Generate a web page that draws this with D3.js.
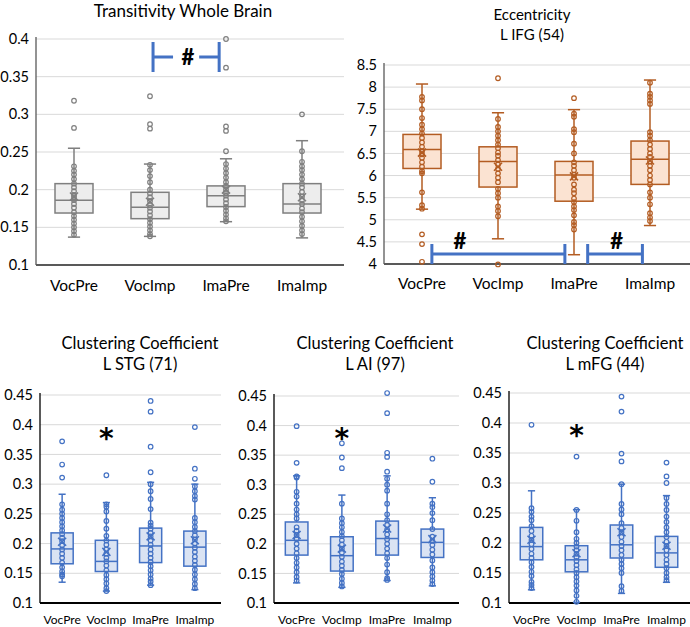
<!DOCTYPE html>
<meta charset="utf-8">
<title>box plots</title>
<head>
<style>
body { margin: 0; background: #fff; }
svg text { font-family: Lato, "Open Sans", sans-serif; }
</style>
</head>
<body>
<div id="chart"></div>
<script src="https://cdn.jsdelivr.net/npm/d3@7"></script>
<script>
var categories = ["VocPre", "VocImp", "ImaPre", "ImaImp"];

// stats per group: [whisker low, q1, median, q3, whisker high, mean]
var transStats = [
  [0.137, 0.169, 0.186, 0.208, 0.255, 0.191],
  [0.138, 0.1615, 0.1765, 0.1965, 0.234, 0.184],
  [0.1575, 0.1775, 0.192, 0.205, 0.241, 0.200],
  [0.136, 0.169, 0.181, 0.208, 0.265, 0.190]
];
var transPoints = [
  [0.318, 0.282, 0.231, 0.225, 0.220, 0.214, 0.208, 0.203, 0.198, 0.193, 0.190, 0.186, 0.181, 0.176, 0.170, 0.165, 0.160, 0.155, 0.150, 0.145, 0.140],
  [0.324, 0.287, 0.281, 0.233, 0.226, 0.218, 0.210, 0.200, 0.195, 0.190, 0.185, 0.180, 0.176, 0.171, 0.166, 0.161, 0.156, 0.151, 0.146, 0.141, 0.138],
  [0.400, 0.362, 0.284, 0.278, 0.251, 0.234, 0.228, 0.222, 0.216, 0.210, 0.205, 0.200, 0.196, 0.192, 0.187, 0.182, 0.177, 0.172, 0.167, 0.162, 0.158],
  [0.300, 0.251, 0.237, 0.231, 0.226, 0.220, 0.214, 0.208, 0.203, 0.197, 0.191, 0.186, 0.181, 0.175, 0.170, 0.164, 0.158, 0.152, 0.146, 0.141]
];

var eccStats = [
  [5.24, 6.16, 6.59, 6.93, 8.07, 6.52],
  [4.57, 5.74, 6.32, 6.65, 7.42, 6.20],
  [4.21, 5.42, 6.01, 6.32, 7.49, 5.98],
  [4.87, 5.80, 6.37, 6.78, 8.16, 6.34]
];
var eccPoints = [
  [7.78, 7.70, 7.50, 7.30, 7.15, 7.05, 6.95, 6.85, 6.75, 6.65, 6.55, 6.48, 6.40, 6.30, 6.20, 6.10, 6.05, 5.62, 5.33, 5.25, 4.67, 4.45, 4.05],
  [8.20, 7.28, 7.10, 7.00, 6.90, 6.80, 6.70, 6.62, 6.52, 6.45, 6.35, 6.25, 6.15, 6.05, 5.95, 5.85, 5.70, 5.60, 5.50, 5.30, 5.20, 5.08, 3.99],
  [7.75, 7.40, 7.33, 7.05, 6.98, 6.72, 6.50, 6.30, 6.22, 6.12, 6.02, 5.95, 5.80, 5.68, 5.60, 5.48, 5.40, 5.30, 5.22, 5.10, 4.95, 4.88, 4.78],
  [8.10, 7.85, 7.78, 7.70, 7.62, 6.98, 6.90, 6.80, 6.70, 6.60, 6.50, 6.42, 6.32, 6.22, 6.12, 6.00, 5.90, 5.80, 5.62, 5.50, 5.35, 5.15, 5.05, 4.97]
];

var stgStats = [
  [0.135, 0.166, 0.191, 0.218, 0.283, 0.203],
  [0.120, 0.153, 0.170, 0.2055, 0.269, 0.186],
  [0.130, 0.168, 0.196, 0.226, 0.303, 0.212],
  [0.1225, 0.162, 0.194, 0.221, 0.300, 0.2055]
];
var stgPoints = [
  [0.372, 0.333, 0.311, 0.266, 0.257, 0.250, 0.243, 0.236, 0.229, 0.222, 0.216, 0.210, 0.204, 0.197, 0.190, 0.183, 0.176, 0.168, 0.160, 0.153, 0.148, 0.145],
  [0.315, 0.266, 0.262, 0.254, 0.238, 0.225, 0.213, 0.205, 0.198, 0.190, 0.183, 0.176, 0.170, 0.163, 0.155, 0.147, 0.140, 0.133, 0.125, 0.120],
  [0.440, 0.422, 0.363, 0.320, 0.300, 0.288, 0.275, 0.258, 0.235, 0.230, 0.225, 0.218, 0.212, 0.205, 0.198, 0.190, 0.183, 0.176, 0.169, 0.162, 0.155, 0.148, 0.141, 0.136, 0.130],
  [0.396, 0.326, 0.309, 0.296, 0.288, 0.280, 0.274, 0.243, 0.236, 0.228, 0.221, 0.214, 0.207, 0.200, 0.193, 0.186, 0.178, 0.171, 0.164, 0.156, 0.148, 0.140, 0.132, 0.125]
];

var aiStats = [
  [0.134, 0.181, 0.206, 0.237, 0.315, 0.215],
  [0.1265, 0.154, 0.180, 0.212, 0.2825, 0.192],
  [0.138, 0.181, 0.209, 0.2385, 0.315, 0.226],
  [0.129, 0.177, 0.2025, 0.225, 0.278, 0.208]
];
var aiPoints = [
  [0.399, 0.337, 0.314, 0.312, 0.288, 0.280, 0.268, 0.258, 0.250, 0.243, 0.228, 0.222, 0.215, 0.208, 0.200, 0.192, 0.184, 0.176, 0.168, 0.160, 0.152, 0.144, 0.138],
  [0.370, 0.346, 0.328, 0.268, 0.243, 0.235, 0.228, 0.220, 0.213, 0.206, 0.199, 0.192, 0.185, 0.178, 0.170, 0.163, 0.156, 0.149, 0.141, 0.134, 0.128],
  [0.455, 0.421, 0.354, 0.347, 0.322, 0.310, 0.300, 0.290, 0.268, 0.250, 0.240, 0.232, 0.224, 0.216, 0.208, 0.200, 0.192, 0.184, 0.176, 0.165, 0.152, 0.142, 0.139],
  [0.344, 0.305, 0.268, 0.262, 0.252, 0.240, 0.225, 0.212, 0.205, 0.198, 0.190, 0.182, 0.172, 0.160, 0.152, 0.145, 0.138, 0.132]
];

var mfgStats = [
  [0.122, 0.172, 0.194, 0.226, 0.287, 0.2055],
  [0.101, 0.152, 0.172, 0.1955, 0.2555, 0.183],
  [0.116, 0.175, 0.197, 0.230, 0.298, 0.218],
  [0.1345, 0.1595, 0.1835, 0.211, 0.279, 0.1955]
];
var mfgPoints = [
  [0.397, 0.258, 0.252, 0.244, 0.238, 0.228, 0.220, 0.212, 0.205, 0.198, 0.190, 0.182, 0.175, 0.168, 0.160, 0.152, 0.145, 0.135, 0.130, 0.125],
  [0.344, 0.255, 0.237, 0.218, 0.207, 0.200, 0.194, 0.188, 0.182, 0.176, 0.170, 0.163, 0.156, 0.150, 0.143, 0.136, 0.129, 0.121, 0.112, 0.102],
  [0.444, 0.419, 0.349, 0.336, 0.298, 0.265, 0.256, 0.248, 0.233, 0.225, 0.218, 0.210, 0.202, 0.195, 0.188, 0.180, 0.172, 0.165, 0.158, 0.150, 0.128, 0.120],
  [0.334, 0.311, 0.300, 0.275, 0.265, 0.255, 0.244, 0.235, 0.226, 0.218, 0.210, 0.202, 0.195, 0.188, 0.180, 0.172, 0.165, 0.158, 0.150, 0.143, 0.138]
];

var ccTicks = [0.1, 0.15, 0.2, 0.25, 0.3, 0.35, 0.4, 0.45];
var transTicks = [0.1, 0.15, 0.2, 0.25, 0.3, 0.35, 0.4];
var eccTicks = [4, 4.5, 5, 5.5, 6, 6.5, 7, 7.5, 8, 8.5];

var svg = d3.select("#chart").append("svg")
    .attr("width", 690)
    .attr("height", 627);

var gray = {stroke: "#7f7f7f", fill: "#ededed", axis: "#595959"};
var orange = {stroke: "#b35c22", fill: "#fbe3d2", axis: "#595959"};
var blue = {stroke: "#4472c4", fill: "#dae3f3", axis: "#000"};

function panel(o) {
  var g = svg.append("g");
  var x = d3.scaleBand().domain(categories).range([o.left, o.right]);
  var y = d3.scaleLinear().domain([o.ticks[0], o.ticks[o.ticks.length - 1]]).range([o.bottom, o.top]);
  var bw = x.bandwidth() * 0.5;

  g.selectAll(".grid").data(o.ticks.slice(1)).enter().append("line")
      .attr("x1", o.left).attr("x2", o.right + 4)
      .attr("y1", function(d) { return y(d); }).attr("y2", function(d) { return y(d); })
      .style("stroke", "#d9d9d9").style("stroke-width", 1);

  var ax = g.append("g")
      .attr("transform", "translate(" + (o.left - 4) + ",0)")
      .call(d3.axisLeft(y).tickValues(o.ticks).tickSize(0).tickPadding(3)
        .tickFormat(function(d) { return String(+d.toFixed(2)); }));
  ax.select(".domain").remove();
  ax.selectAll("text").style("font-family", "Lato").style("font-size", o.tickSize + "px").style("fill", "#000");

  g.append("line").attr("x1", o.left).attr("x2", o.left).attr("y1", o.top - 2).attr("y2", o.bottom)
      .style("stroke", o.col.axis).style("stroke-width", 1.3);
  g.append("line").attr("x1", o.left).attr("x2", o.right + 4).attr("y1", o.bottom).attr("y2", o.bottom)
      .style("stroke", o.col.axis).style("stroke-width", 1.8);

  g.selectAll(".cat").data(categories).enter().append("text")
      .attr("x", function(d) { return x(d) + x.bandwidth() / 2; })
      .attr("y", o.catY)
      .attr("text-anchor", "middle")
      .style("font-size", o.catSize + "px")
      .text(function(d) { return d; });

  o.titles.forEach(function(t, i) {
    g.append("text").attr("x", o.titleX).attr("y", o.titleY + i * o.titleGap)
        .attr("text-anchor", "middle").style("font-size", o.titleSize + "px").text(t);
  });

  categories.forEach(function(c, i) {
    var s = o.stats[i], cx = x(c) + x.bandwidth() / 2, col = o.col;
    var bg = g.append("g");
    bg.append("line").attr("x1", cx).attr("x2", cx).attr("y1", y(s[0])).attr("y2", y(s[4]))
        .style("stroke", col.stroke).style("stroke-width", 1.5);
    [s[0], s[4]].forEach(function(v) {
      bg.append("line").attr("x1", cx - bw * 0.16).attr("x2", cx + bw * 0.16).attr("y1", y(v)).attr("y2", y(v))
          .style("stroke", col.stroke).style("stroke-width", 1.5);
    });
    bg.append("rect").attr("x", cx - bw / 2).attr("width", bw)
        .attr("y", y(s[3])).attr("height", y(s[1]) - y(s[3]))
        .style("fill", col.fill).style("stroke", col.stroke).style("stroke-width", 1.5);
    bg.append("line").attr("x1", cx - bw / 2).attr("x2", cx + bw / 2).attr("y1", y(s[2])).attr("y2", y(s[2]))
        .style("stroke", col.stroke).style("stroke-width", 1.5);
    bg.selectAll("circle").data(o.points[i]).enter().append("circle")
        .attr("cx", cx).attr("cy", function(d) { return y(d); }).attr("r", 2.3)
        .style("fill", "none").style("stroke", col.stroke).style("stroke-width", 1.2);
    var my = y(s[5]), m = 4;
    bg.append("path").attr("d", "M" + (cx - m) + "," + (my - m) + "L" + (cx + m) + "," + (my + m) +
        "M" + (cx - m) + "," + (my + m) + "L" + (cx + m) + "," + (my - m))
        .style("stroke", col.stroke).style("stroke-width", 1.6);
  });

  (o.brackets || []).forEach(function(b) {
    var by = y(b.y), x1 = x(b.from) + x.bandwidth() * b.fromOff, x2 = x(b.to) + x.bandwidth() * b.toOff;
    var h = b.h;
    g.append("path")
        .attr("d", b.split
          ? "M" + x1 + "," + (by - h) + "V" + (by + h) + "M" + x1 + "," + by + "H" + (x1 + b.split) +
            "M" + (x2 - b.split) + "," + by + "H" + x2 + "M" + x2 + "," + (by - h) + "V" + (by + h)
          : "M" + x1 + "," + (by - h) + "V" + (by + h) + "M" + x1 + "," + by + "H" + x2 +
            "M" + x2 + "," + (by - h) + "V" + (by + h))
        .style("fill", "none").style("stroke", "#4472c4").style("stroke-width", 3);
  });
  (o.marks || []).forEach(function(mk) {
    g.append("text").attr("x", x(mk.cat) + x.bandwidth() * mk.off)
        .attr("y", y(mk.y) + mk.dy)
        .attr("text-anchor", "middle").style("font-weight", "900")
        .style("font-family", mk.font || "Lato")
        .style("font-size", mk.size + "px").text(mk.sym);
  });
}

panel({left: 36, right: 340, top: 39, bottom: 265, ticks: transTicks, stats: transStats, points: transPoints,
  col: gray, tickSize: 14.5, catSize: 15.5, catY: 291, titles: ["Transitivity Whole Brain"], titleX: 183, titleY: 17, titleGap: 0, titleSize: 17,
  brackets: [{from: "VocImp", fromOff: 0.54, to: "ImaPre", toOff: 0.41, y: 0.376, h: 15, split: 20}],
  marks: [{cat: "VocImp", off: 1.0, y: 0.376, dy: 8, sym: "#", size: 22}]});

panel({left: 384, right: 688, top: 65, bottom: 264, ticks: eccTicks, stats: eccStats, points: eccPoints,
  col: orange, tickSize: 14.5, catSize: 15.5, catY: 289, titles: ["Eccentricity", "L IFG (54)"], titleX: 532, titleY: 20, titleGap: 20, titleSize: 15,
  brackets: [{from: "VocPre", fromOff: 0.63, to: "ImaPre", toOff: 0.38, y: 4.226, h: 10},
             {from: "ImaPre", fromOff: 0.68, to: "ImaImp", toOff: 0.40, y: 4.226, h: 10}],
  marks: [{cat: "VocPre", off: 1.0, y: 4.226, dy: -5, sym: "#", size: 22},
          {cat: "ImaImp", off: 0.06, y: 4.226, dy: -5, sym: "#", size: 22}]});

panel({left: 40, right: 217, top: 395, bottom: 603, ticks: ccTicks, stats: stgStats, points: stgPoints,
  col: blue, tickSize: 14.5, catSize: 12, catY: 624, titles: ["Clustering Coefficient", "L STG (71)"], titleX: 140, titleY: 349, titleGap: 21, titleSize: 16.5,
  marks: [{cat: "VocImp", off: 0.5, y: 0.388, dy: 16, sym: "*", size: 28, font: "DejaVu Sans"}]});

panel({left: 274, right: 455, top: 396, bottom: 603, ticks: ccTicks, stats: aiStats, points: aiPoints,
  col: blue, tickSize: 14.5, catSize: 12, catY: 624, titles: ["Clustering Coefficient", "L AI (97)"], titleX: 375, titleY: 349, titleGap: 21, titleSize: 16.5,
  marks: [{cat: "VocImp", off: 0.5, y: 0.389, dy: 16, sym: "*", size: 28, font: "DejaVu Sans"}]});

panel({left: 509, right: 689, top: 393, bottom: 603, ticks: ccTicks, stats: mfgStats, points: mfgPoints,
  col: blue, tickSize: 14.5, catSize: 12, catY: 624, titles: ["Clustering Coefficient", "L mFG (44)"], titleX: 605, titleY: 349, titleGap: 21, titleSize: 16.5,
  marks: [{cat: "VocImp", off: 0.5, y: 0.39, dy: 16, sym: "*", size: 28, font: "DejaVu Sans"}]});
</script>
</body>
</html>
